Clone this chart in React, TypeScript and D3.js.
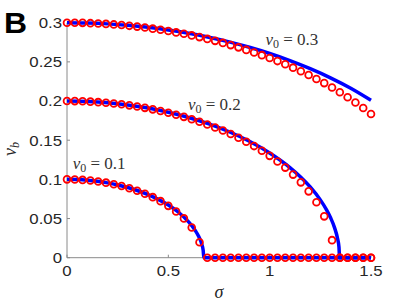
import React from "react";
import * as d3 from "d3";

// Simulation grid (σ) and values (red circles)
const sigmaSim = [0, 0.0385, 0.0769, 0.1154, 0.1538, 0.1923, 0.2308, 0.2692, 0.3077, 0.3462, 0.3846, 0.4231, 0.4615, 0.5, 0.5385, 0.5769, 0.6154, 0.6538, 0.6923, 0.7308, 0.7692, 0.8077, 0.8462, 0.8846, 0.9231, 0.9615, 1.0, 1.0385, 1.0769, 1.1154, 1.1538, 1.1923, 1.2308, 1.2692, 1.3077, 1.3462, 1.3846, 1.4231, 1.4615, 1.5];
const sim01 = [0.1, 0.0998, 0.0993, 0.0985, 0.0973, 0.0958, 0.0938, 0.0915, 0.0887, 0.0855, 0.0817, 0.0773, 0.0722, 0.0662, 0.059, 0.0502, 0.0386, 0.0198, 0, 0, 0, 0, 0, 0, 0, 0, 0, 0, 0, 0, 0, 0, 0, 0, 0, 0, 0, 0, 0, 0];
const sim02 = [0.2, 0.1999, 0.1997, 0.1992, 0.1986, 0.1979, 0.1969, 0.1958, 0.1945, 0.193, 0.1913, 0.1894, 0.1873, 0.185, 0.1825, 0.1798, 0.1768, 0.1736, 0.1701, 0.1663, 0.1623, 0.1579, 0.1532, 0.1481, 0.1425, 0.1366, 0.13, 0.1229, 0.115, 0.1061, 0.0962, 0.0847, 0.0708, 0.0528, 0.0224, 0, 0, 0, 0, 0];
const sim03 = [0.3, 0.2999, 0.2998, 0.2994, 0.299, 0.2985, 0.2978, 0.297, 0.296, 0.295, 0.2938, 0.2924, 0.291, 0.2894, 0.2876, 0.2858, 0.2838, 0.2816, 0.2793, 0.2768, 0.2742, 0.2714, 0.2685, 0.2653, 0.262, 0.2586, 0.2549, 0.251, 0.2469, 0.2426, 0.238, 0.2333, 0.2282, 0.2229, 0.2172, 0.2113, 0.2049, 0.1982, 0.1911, 0.1835];

// Theory curves (blue lines)
const theorySigma01 = [0, 0.05, 0.1, 0.15, 0.2, 0.25, 0.3, 0.35, 0.4, 0.45, 0.5, 0.55, 0.6, 0.63, 0.65, 0.665, 0.672, 0.675, 1.5];
const theory01 = [0.1, 0.0997, 0.0989, 0.0975, 0.0955, 0.0929, 0.0896, 0.0855, 0.0806, 0.0745, 0.0672, 0.058, 0.0458, 0.0359, 0.027, 0.0172, 0.0094, 0, 0];
const theorySigma02 = [0, 0.1, 0.2, 0.3, 0.4, 0.5, 0.6, 0.7, 0.8, 0.9, 1.0, 1.1, 1.15, 1.2, 1.25, 1.28, 1.3, 1.32, 1.335, 1.342, 1.345, 1.5];
const theory02 = [0.2, 0.1994, 0.1978, 0.195, 0.191, 0.1857, 0.179, 0.1708, 0.1608, 0.1486, 0.1337, 0.1151, 0.1037, 0.0903, 0.0738, 0.0614, 0.0513, 0.0384, 0.0243, 0.0134, 0, 0];
const theorySigma03 = [0, 0.1, 0.2, 0.3, 0.4, 0.5, 0.6, 0.7, 0.8, 0.9, 1.0, 1.1, 1.2, 1.3, 1.4, 1.5];
const theory03 = [0.3, 0.2996, 0.2985, 0.2967, 0.2941, 0.2907, 0.2865, 0.2814, 0.2755, 0.2686, 0.2607, 0.2516, 0.2413, 0.2296, 0.2163, 0.2009];

const xTicks = [0, 0.5, 1, 1.5];
const xTickLabels = ["0", "0.5", "1", "1.5"];
const yTicks = [0, 0.05, 0.1, 0.15, 0.2, 0.25, 0.3];
const yTickLabels = ["0", "0.05", "0.1", "0.15", "0.2", "0.25", "0.3"];

const annotations = [
  { v0: "0.3", sx: 0.979, vy: 0.271 },
  { v0: "0.2", sx: 0.597, vy: 0.188 },
  { v0: "0.1", sx: 0.028, vy: 0.113 },
];

export default function App() {
  const W = 409, H = 307;
  const x = d3.scaleLinear().domain([0, 1.5]).range([67, 371]);
  const y = d3.scaleLinear().domain([0, 0.3]).range([257.7, 22.7]);
  const line = d3
    .line<[number, number]>()
    .x((d) => x(d[0]))
    .y((d) => y(d[1]))
    .curve(d3.curveMonotoneX);

  const theories: [number[], number[]][] = [
    [theorySigma01, theory01],
    [theorySigma02, theory02],
    [theorySigma03, theory03],
  ];
  const sims = [sim01, sim02, sim03];
  const axisColor = "#8a8a8a";
  const textColor = "#262626";
  const tickFont = "'Liberation Sans', Arial, sans-serif";
  const mathFont = "'Liberation Serif', 'DejaVu Serif', serif";

  return (
    <svg
      width={W}
      height={H}
      style={{ position: "absolute", left: 0, top: 0, background: "#fff" }}
    >
      <rect width={W} height={H} fill="#fff" />
      {/* Panel letter */}
      <g transform="translate(4,33) scale(1.1,1)">
        <text x={0} y={0} fontFamily={tickFont} fontWeight="bold" fontSize={29} fill="#000">
          B
        </text>
      </g>
      {/* Axes */}
      <line x1={x(0)} x2={x(1.5)} y1={y(0)} y2={y(0)} stroke={axisColor} strokeWidth={1} />
      <line x1={x(0)} x2={x(0)} y1={y(0)} y2={y(0.3)} stroke={axisColor} strokeWidth={1} />
      {xTicks.map((t, i) => (
        <g key={"xt" + i}>
          <line x1={x(t)} x2={x(t)} y1={y(0)} y2={y(0) - 3} stroke={axisColor} />
          <g transform={`translate(${x(t)},${275.5}) scale(1.2,1)`}>
            <text textAnchor="middle" fontFamily={tickFont} fontSize={14} fill={textColor}>
              {xTickLabels[i]}
            </text>
          </g>
        </g>
      ))}
      {yTicks.map((t, i) => (
        <g key={"yt" + i}>
          <line x1={x(0)} x2={x(0) + 3} y1={y(t)} y2={y(t)} stroke={axisColor} />
          <g transform={`translate(${62},${y(t) + 5.3}) scale(1.2,1)`}>
            <text textAnchor="end" fontFamily={tickFont} fontSize={14} fill={textColor}>
              {yTickLabels[i]}
            </text>
          </g>
        </g>
      ))}
      {/* Axis labels */}
      <text x={219} y={298} textAnchor="middle" fontFamily={mathFont} fontStyle="italic" fontSize={18} fill={textColor}>
        σ
      </text>
      <g transform="translate(16,149) rotate(-90)">
        <text textAnchor="middle" fontFamily={mathFont} fontSize={18} fill={textColor}>
          <tspan fontStyle="italic">v</tspan>
          <tspan fontStyle="italic" fontSize={12} dy={3}>b</tspan>
        </text>
      </g>
      {/* Theory lines */}
      {theories.map(([sx, sv], i) => (
        <path
          key={"th" + i}
          d={line(sx.map((s, j) => [s, sv[j]] as [number, number])) || ""}
          fill="none"
          stroke="#0000ff"
          strokeWidth={3.5}
        />
      ))}
      {/* Simulation circles */}
      {sims.map((arr, i) => (
        <g key={"sim" + i}>
          {arr.map((v, j) => (
            <circle
              key={j}
              cx={x(sigmaSim[j])}
              cy={y(v)}
              r={3.4}
              fill="none"
              stroke="#ff0000"
              strokeWidth={1.8}
            />
          ))}
        </g>
      ))}
      {/* Annotations */}
      {annotations.map((a, i) => (
        <text
          key={"an" + i}
          x={x(a.sx)}
          y={y(a.vy)}
          fontFamily={mathFont}
          fontSize={17}
          fill="#333"
        >
          <tspan fontStyle="italic">v</tspan>
          <tspan fontSize={12} dy={3}>0</tspan>
          <tspan dy={-3}>{" = " + a.v0}</tspan>
        </text>
      ))}
    </svg>
  );
}
